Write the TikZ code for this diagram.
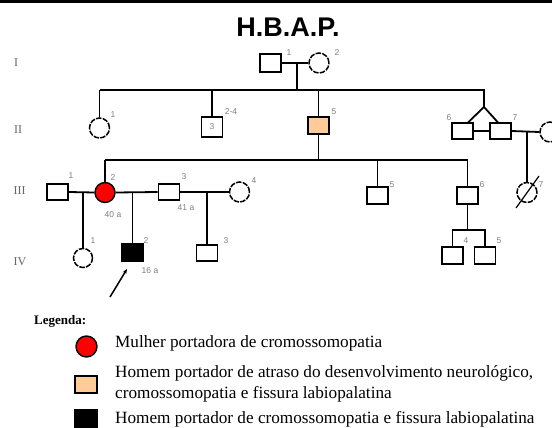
\documentclass[tikz,border=0pt]{standalone}
\usepackage{fontspec}
\setmainfont{Liberation Serif}
\newfontfamily\arial{Liberation Sans}
\usetikzlibrary{arrows.meta,calc}
\definecolor{peach}{RGB}{255,204,153}
\begin{document}
\begin{tikzpicture}[x=1pt,y=-1pt,
  ln/.style={line width=1.8pt},
  male/.style={draw, line width=1.7pt, rectangle, minimum width=21pt, minimum height=17.5pt, inner sep=0pt},
  female/.style={draw, line width=1.5pt, circle, minimum size=20pt, inner sep=0pt, dash pattern=on 5.5pt off 1.3pt},
  carrier/.style={draw, line width=1.4pt, circle, minimum size=20pt, inner sep=0pt, fill=red},
  affm/.style={male, fill=peach},
  probm/.style={male, fill=black},
  num/.style={font=\arial\fontsize{8.5}{9}\selectfont, text=black!50, inner sep=0pt},
  gen/.style={font=\fontsize{12}{12}\selectfont, text=black!60, inner sep=0pt, anchor=west},
  leg/.style={font=\fontsize{17.2}{21}\selectfont, anchor=west, inner sep=0pt, align=left},
]
\fill[white] (0,0) rectangle (552,428);
\useasboundingbox (0,0) rectangle (552,428);
\clip (0,0) rectangle (552,428);

% top rule and title
\coordinate (tl) at (0,2);
\coordinate (tr) at (552,2);
\draw[line width=3pt] (tl) -- (tr);
\node[font=\arial\bfseries\fontsize{27}{27}\selectfont, inner sep=0pt] (title) at (288,27) {H.B.A.P.};

% generation labels
\node[gen] (gI) at (14,63) {I};
\node[gen] (gII) at (14,130) {II};
\node[gen] (gIII) at (13.5,191) {III};
\node[gen] (gIV) at (13.5,262) {IV};

% generation I
\node[male] (I1) at (270.5,63) {};
\node[female] (I2) at (319,63) {};
\node[num] (lI1) at (289,53) {1};
\node[num] (lI2) at (337,53) {2};
\draw[ln] (I1.east) -- (I2.west);
\coordinate (m1) at (297,63);

% generation II
\coordinate (s2a) at (99.5,90);
\coordinate (s2b) at (484,90);
\coordinate (tw) at (484,107);
\node[female] (II1) at (99.5,128) {};
\node[male, minimum height=20.5pt] (II24) at (212,127) {};
\node[affm] (II5) at (318.5,125.5) {};
\node[male, minimum height=16.5pt] (II6) at (462.5,131) {};
\node[male, minimum height=16.5pt] (II7) at (500.5,131) {};
\node[female] (II8) at (550,132) {};
\node[num] (lII1) at (113,115) {1};
\node[num] (lII24) at (231,112) {2-4};
\node[num] (nII24) at (II24) {3};
\node[num] (lII5) at (334,112) {5};
\node[num] (lII6) at (449,118) {6};
\node[num] (lII7) at (515,118) {7};
\draw[ln] (m1) -- (m1 |- s2a);
\draw[ln] (s2a) -- (s2b) -- (tw);
\draw[ln] (II1.north) -- (II1.north |- s2a);
\draw[ln] (II24.north) -- (II24.north |- s2a);
\draw[ln] (II5.north) -- (II5.north |- s2a);
\coordinate (tw6) at (468,122.5);
\coordinate (tw7) at (498,122.5);
\draw[ln] (tw6) -- (tw) -- (tw7);
\draw[ln] (II6.east) -- (II7.west);
\draw[ln] (II7.east) -- (II8.west);
\coordinate (m2) at (527,132);

% generation III
\coordinate (s3a) at (105,160);
\coordinate (s3b) at (467.5,160);
\node[male, minimum height=16pt] (III1) at (57.5,192) {};
\node[carrier] (III2) at (105,192.5) {};
\node[male, minimum height=16pt] (III3) at (169,192) {};
\node[female] (III4) at (239.5,192) {};
\node[male] (III5) at (377.5,195.5) {};
\node[male] (III6) at (467.5,195.5) {};
\node[female] (III7) at (527,192.5) {};
\node[num] (lIII1) at (71,176) {1};
\node[num] (lIII2) at (113,178) {2};
\node[num] (aIII2) at (113,215) {40 a};
\node[num] (lIII3) at (184,177) {3};
\node[num] (aIII3) at (186,208) {41 a};
\node[num] (lIII4) at (254,181) {4};
\node[num] (lIII5) at (392,185) {5};
\node[num] (lIII6) at (482,185) {6};
\node[num] (lIII7) at (541,185) {7};
\draw[ln] (II5.south) -- (II5.south |- s3a);
\draw[ln] (s3a) -- (s3b);
\draw[ln] (III2.north) -- (III2.north |- s3a);
\draw[ln] (III5.north) -- (III5.north |- s3a);
\draw[ln] (III6.north) -- (III6.north |- s3a);
\draw[ln] (m2) -- (III7.north);
\coordinate (d7a) at (516,208);
\coordinate (d7b) at (539,176);
\draw[line width=1.2pt] (d7a) -- (d7b);
\draw[ln] (III1.east) -- (III2.west);
\draw[ln] (III2.east) -- (III3.west);
\draw[ln] (III3.east) -- (III4.west);
\coordinate (m3) at (83,192);
\coordinate (m4) at (132.5,192);
\coordinate (m5) at (207,192);

% generation IV
\node[female, minimum size=19pt] (IV1) at (83,258) {};
\node[probm] (IV2) at (132.5,252.5) {};
\node[male, minimum height=16.5pt] (IV3) at (207,253) {};
\node[male] (IV4) at (452.5,255.5) {};
\node[male] (IV5) at (485,255.5) {};
\node[num] (lIV1) at (93,241) {1};
\node[num] (lIV2) at (146,241) {2};
\node[num] (aIV2) at (150,271) {16 a};
\node[num] (lIV3) at (226,241) {3};
\node[num] (lIV4) at (466,241) {4};
\node[num] (lIV5) at (499,241) {5};
\draw[ln] (m3) -- (IV1.north);
\draw[ln] (m4) -- (IV2.north);
\draw[ln] (m5) -- (IV3.north);
\coordinate (s4) at (467.5,230);
\draw[ln] (III6.south) -- (s4);
\draw[ln] (IV4.north) |- (s4) -| (IV5.north);

% proband arrow
\coordinate (arT) at (110,297);
\coordinate (arH) at (127,269);
\draw[line width=1.5pt, -{Stealth[length=5pt,width=4pt]}] (arT) -- (arH);

% legend
\node[font=\bfseries\fontsize{13}{13}\selectfont, anchor=west, inner sep=0pt] (legT) at (34,321) {Legenda:};
\node[carrier, minimum size=21pt] (Lg1) at (86.5,346.5) {};
\node[leg] (Lt1) at (115,343) {Mulher portadora de cromossomopatia};
\node[affm, minimum width=22pt, minimum height=17.5pt] (Lg2) at (86,384.5) {};
\node[leg] (Lt2) at (115,383.5) {Homem portador de atraso do desenvolvimento neurológico,\\cromossomopatia e fissura labiopalatina};
\node[probm, minimum width=22pt, minimum height=18pt] (Lg3) at (86,419) {};
\node[leg] (Lt3) at (115,419) {Homem portador de cromossomopatia e fissura labiopalatina};
\end{tikzpicture}
\end{document}
